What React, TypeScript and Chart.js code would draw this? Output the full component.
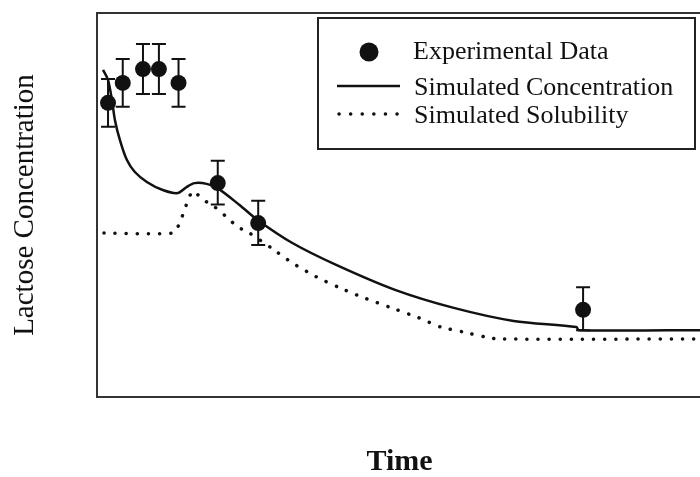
import React, { useEffect, useRef } from "react";
import { Chart, registerables } from "chart.js";

Chart.register(...registerables);

// ---- Data ----
const expTime = [1.8, 4.2, 7.5, 10.1, 13.3, 19.7, 26.3, 79.3];
const expConc = [76.6, 81.8, 85.4, 85.4, 81.8, 55.7, 45.3, 22.7];
const expErrHigh = [6.2, 6.2, 6.5, 6.5, 6.2, 5.8, 5.8, 5.9];
const expErrLow = [6.2, 6.2, 6.5, 6.5, 6.2, 5.6, 5.7, 5.3];

const simTime = [0.98, 1.79, 2.44, 2.93, 3.74, 4.88, 6.18, 8.13, 10.73, 13.17, 14.63, 15.93, 17.89, 19.67, 23.25, 26.18, 31.87, 39.02, 48.62, 58.21, 67.97, 78.21, 78.6, 100];
const simConc = [85.2, 82.6, 77.3, 72.1, 66.9, 61.7, 58.6, 56.0, 53.9, 53.1, 54.7, 55.7, 55.5, 54.4, 50.0, 46.1, 40.1, 34.4, 27.9, 23.2, 19.8, 18.2, 17.4, 17.4];

const solTime = [1.14, 12.36, 13.5, 14.15, 14.8, 15.61, 17.4, 19.19, 21.14, 22.93, 24.88, 28.46, 31.87, 35.77, 39.35, 43.25, 48.94, 52.52, 56.1, 59.84, 63.41, 65.37, 100];
const solConc = [42.7, 42.7, 45.3, 48.2, 51.0, 53.6, 51.3, 49.5, 46.9, 44.3, 42.7, 38.8, 34.9, 31.3, 28.6, 26.0, 22.7, 20.6, 18.2, 16.9, 15.6, 15.1, 15.1];

const seriesLabels = ["Experimental Data", "Simulated Concentration", "Simulated Solubility"];
const xTitle = "Time";
const yTitle = "Lactose Concentration";

const FONT = '"Liberation Serif", "Times New Roman", serif';
const INK = "#111";

export default function App() {
  const ref = useRef<HTMLCanvasElement>(null);

  useEffect(() => {
    if (!ref.current) return;

    const errorBars = {
      id: "errorBars",
      afterDatasetsDraw(chart: any) {
        const { ctx, scales } = chart;
        ctx.save();
        ctx.strokeStyle = INK;
        ctx.lineWidth = 2;
        for (let i = 0; i < expTime.length; i++) {
          const x = scales.x.getPixelForValue(expTime[i]);
          const yTop = scales.y.getPixelForValue(expConc[i] + expErrHigh[i]);
          const yBot = scales.y.getPixelForValue(expConc[i] - expErrLow[i]);
          ctx.beginPath();
          ctx.moveTo(x, yTop);
          ctx.lineTo(x, yBot);
          ctx.moveTo(x - 7, yTop);
          ctx.lineTo(x + 7, yTop);
          ctx.moveTo(x - 7, yBot);
          ctx.lineTo(x + 7, yBot);
          ctx.stroke();
        }
        ctx.restore();
      },
    };

    const boxLegend = {
      id: "boxLegend",
      afterDraw(chart: any) {
        const { ctx } = chart;
        ctx.save();
        ctx.fillStyle = "#fff";
        ctx.fillRect(318, 18, 377, 131);
        ctx.strokeStyle = "#222";
        ctx.lineWidth = 2;
        ctx.strokeRect(318, 18, 377, 131);

        // row 1: circle marker
        ctx.fillStyle = INK;
        ctx.beginPath();
        ctx.arc(369, 52, 9.5, 0, Math.PI * 2);
        ctx.fill();

        // row 2: solid line
        ctx.strokeStyle = INK;
        ctx.lineWidth = 2.5;
        ctx.beginPath();
        ctx.moveTo(337, 86);
        ctx.lineTo(400, 86);
        ctx.stroke();

        // row 3: dotted line
        ctx.lineWidth = 3.5;
        ctx.lineCap = "round";
        ctx.setLineDash([0.1, 11.5]);
        ctx.beginPath();
        ctx.moveTo(339, 114);
        ctx.lineTo(400, 114);
        ctx.stroke();
        ctx.setLineDash([]);

        ctx.fillStyle = INK;
        ctx.font = `26px ${FONT}`;
        ctx.textBaseline = "alphabetic";
        ctx.textAlign = "left";
        ctx.fillText(seriesLabels[0], 413, 59);
        ctx.fillText(seriesLabels[1], 414, 95);
        ctx.fillText(seriesLabels[2], 414, 123);
        ctx.restore();
      },
    };

    const hiddenAxis = (position: string) => ({
      type: "linear" as const,
      position,
      display: true,
      ticks: { display: false },
      grid: { display: false, drawTicks: false, tickLength: 0 },
      border: { display: true, color: "#333", width: 2 },
    });

    const chart = new Chart(ref.current, {
      type: "scatter",
      data: {
        datasets: [
          {
            label: seriesLabels[0],
            data: expTime.map((t, i) => ({ x: t, y: expConc[i] })),
            showLine: false,
            pointRadius: 8,
            pointBackgroundColor: INK,
            pointBorderColor: INK,
            pointBorderWidth: 0,
            order: 0,
          },
          {
            label: seriesLabels[1],
            type: "line",
            data: simTime.map((t, i) => ({ x: t, y: simConc[i] })),
            showLine: true,
            borderColor: INK,
            borderWidth: 2.5,
            pointRadius: 0,
            tension: 0.3,
            fill: false,
            order: 1,
          },
          {
            label: seriesLabels[2],
            type: "line",
            data: solTime.map((t, i) => ({ x: t, y: solConc[i] })),
            showLine: true,
            borderColor: INK,
            borderWidth: 3.5,
            borderCapStyle: "round",
            borderDash: [0.1, 11],
            pointRadius: 0,
            tension: 0.2,
            fill: false,
            order: 2,
          },
        ],
      } as any,
      options: {
        responsive: false,
        animation: false,
        devicePixelRatio: 1,
        layout: { padding: { left: 0, top: 13, right: 6, bottom: 0 } },
        plugins: {
          legend: { display: false },
          tooltip: { enabled: false },
        },
        scales: {
          x: {
            type: "linear",
            position: "bottom",
            min: 0,
            max: 98.7,
            ticks: { display: false },
            grid: { display: false, drawTicks: false, tickLength: 0 },
            border: { display: true, color: "#333", width: 2 },
            title: {
              display: true,
              text: xTitle,
              color: INK,
              font: { family: FONT, size: 30, weight: "bold", lineHeight: 1 },
              padding: { top: 50, bottom: 0 },
            },
          },
          y: {
            type: "linear",
            position: "left",
            min: 0,
            max: 100,
            ticks: { display: false },
            grid: { display: false, drawTicks: false, tickLength: 0 },
            border: { display: true, color: "#333", width: 2 },
            title: {
              display: true,
              text: yTitle,
              color: INK,
              font: { family: FONT, size: 29, weight: "normal", lineHeight: 1.2 },
              padding: { top: 7.6, bottom: 54.6 },
            },
          },
          x2: hiddenAxis("top"),
          y2: hiddenAxis("right"),
        },
      } as any,
      plugins: [errorBars, boxLegend],
    });

    return () => chart.destroy();
  }, []);

  return (
    <div
      style={{
        position: "fixed",
        left: 0,
        top: 0,
        width: 700,
        height: 477,
        overflow: "hidden",
        background: "#fff",
      }}
    >
      <canvas ref={ref} width={710} height={477} style={{ display: "block" }} />
    </div>
  );
}
